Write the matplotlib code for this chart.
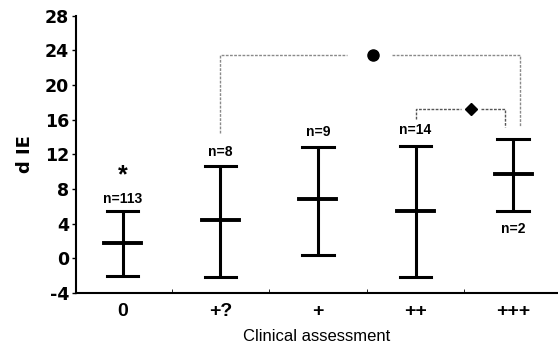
import numpy as np
import matplotlib.pyplot as plt
from matplotlib.ticker import FixedLocator

plt.rcParams['font.family'] = ['Liberation Sans', 'DejaVu Sans']
plt.rcParams['axes.unicode_minus'] = False

# Data
categories = ['0', '+?', '+', '++', '+++']
means = [1.8, 4.4, 6.8, 5.5, 9.7]
upper = [5.4, 10.7, 12.9, 13.0, 13.8]
lower = [-2.1, -2.2, 0.4, -2.2, 5.4]
n_labels = ['n=113', 'n=8', 'n=9', 'n=14', 'n=2']
n_label_y = [6.9, 12.3, 14.6, 14.8, 3.4]

x = np.arange(len(categories))

fig = plt.figure(figsize=(5.58, 3.52), dpi=100)
ax = fig.add_axes([0.136, 0.168, 0.864, 0.787])

cap = 0.16
mhalf = 0.19
for i in x:
    ax.plot([i, i], [lower[i], upper[i]], color='black', lw=2.2, solid_capstyle='butt')
    ax.plot([i - cap, i + cap], [upper[i], upper[i]], color='black', lw=2.2)
    ax.plot([i - cap, i + cap], [lower[i], lower[i]], color='black', lw=2.2)
    ax.plot([i - mhalf, i + mhalf], [means[i], means[i]], color='black', lw=2.8)
    ax.text(i, n_label_y[i], n_labels[i], ha='center', va='center',
            fontsize=10, fontweight='bold')

# star above group 0
ax.text(0, 9.6, '*', ha='center', va='center', fontsize=18, fontweight='bold')

# significance brackets
gray = '#8a8a8a'
ax.plot([1.0, 1.0, 2.3], [14.5, 23.5, 23.5], color=gray, lw=1, ls=(0, (2, 1)))
ax.plot([2.76, 4.07, 4.07], [23.5, 23.5, 15.2], color=gray, lw=1, ls=(0, (2, 1)))
ax.plot(2.56, 23.5, 'o', color='black', ms=8)

ax.plot([3.0, 3.0, 3.47], [16.1, 17.2, 17.2], color='#555555', lw=1, ls=(0, (2, 1)))
ax.plot([3.67, 3.92, 3.92], [17.2, 17.2, 15.2], color='#555555', lw=1, ls=(0, (2, 1)))
ax.plot(3.57, 17.2, 'D', color='black', ms=6)

ax.set_xlim(-0.48, 4.46)
ax.set_ylim(-4, 28)
ax.set_yticks(np.arange(-4, 29, 4))
ax.set_xticks(x)
ax.set_xticklabels(categories)
ax.xaxis.set_minor_locator(FixedLocator(x[:-1] + 0.5))

for lab in ax.get_yticklabels():
    lab.set_fontweight('bold')
    lab.set_family('DejaVu Sans')
for lab in ax.get_xticklabels():
    lab.set_fontweight('bold')
ax.tick_params(axis='y', labelsize=12.5, length=3, width=1, pad=2)
ax.tick_params(axis='x', which='major', labelsize=14, length=0, pad=7)
ax.tick_params(axis='x', which='minor', direction='in', length=3)

ax.spines['top'].set_visible(False)
ax.spines['right'].set_visible(False)
ax.spines['left'].set_linewidth(1.5)
ax.spines['bottom'].set_linewidth(1.5)

ax.set_ylabel('d IE', fontsize=13, fontweight='bold', family='DejaVu Sans', labelpad=8)
ax.set_xlabel('Clinical assessment', fontsize=12, labelpad=7)

fig.savefig('out.png', dpi=100)
